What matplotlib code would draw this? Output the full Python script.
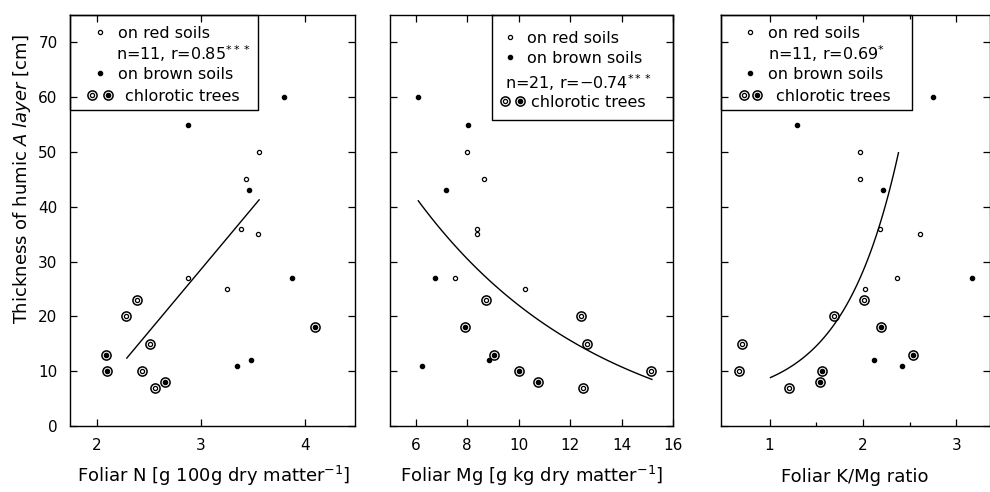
import matplotlib.pyplot as plt
import numpy as np
from matplotlib.transforms import Affine2D

# figure size in pixels (dpi 100)
W, H = 990, 492

# one record per tree: thickness of humic A layer [cm], soil, chlorotic flag
thickness = [60, 55, 50, 45, 43, 36, 35, 27, 27, 25, 23, 20, 18, 15, 13, 12, 11, 10, 10, 8, 7]
soil = ['b', 'b', 'r', 'r', 'b', 'r', 'r', 'r', 'b', 'r', 'r', 'r', 'b', 'r', 'b', 'b', 'b', 'r', 'b', 'b', 'r']
chlorotic = [0, 0, 0, 0, 0, 0, 0, 0, 0, 0, 1, 1, 1, 1, 1, 0, 0, 1, 1, 1, 1]

foliar_n = [3.80, 2.87, 3.56, 3.43, 3.46, 3.38, 3.55, 2.87, 3.87, 3.25, 2.38, 2.28, 4.10, 2.51, 2.09,
            3.48, 3.35, 2.43, 2.10, 2.65, 2.56]
foliar_mg = [6.10, 8.05, 7.98, 8.64, 7.17, 8.37, 8.40, 7.54, 6.75, 10.26, 8.75, 12.41, 7.93, 12.67, 9.03,
             8.85, 6.23, 15.15, 10.00, 10.75, 12.52]
foliar_kmg = [2.75, 1.29, 1.97, 1.97, 2.21, 2.18, 2.61, 2.36, 3.17, 2.02, 2.01, 1.69, 2.19, 0.71, 2.54,
              2.12, 2.42, 0.67, 1.56, 1.54, 1.21]

# regression curves
n_fit = dict(a=-39.5, b=22.7, x0=2.286, x1=3.558)            # y = a + b*x
mg_fit = dict(c=-4.2, a=106.4, b=0.14, x0=6.10, x1=15.18)    # y = c + a*exp(-b*x)
kmg_fit = dict(c=4.42, a=0.795, b=1.7, x0=1.01, x1=2.38)     # y = c + a*exp(b*x)

y = np.array(thickness, dtype=float)
red = np.array(soil) == 'r'
chl = np.array(chlorotic) == 1

plt.rcParams['font.family'] = 'DejaVu Sans'
fig = plt.figure(figsize=(W / 100, H / 100), dpi=100)
pix = Affine2D().scale(1, -1).translate(0, H)  # image pixels, origin top-left


def make_axes(l, t, r, b, xlim, xticks):
    ax = fig.add_axes([l / W, 1 - b / H, (r - l) / W, (b - t) / H])
    ax.set_xlim(*xlim)
    ax.set_ylim(0, 75)
    ax.set_xticks(xticks)
    ax.set_yticks(range(0, 71, 10))
    ax.tick_params(direction='in', top=True, right=True, length=5, width=0.9,
                   labelsize=11, pad=9)
    for s in ax.spines.values():
        s.set_linewidth(1.0)
    return ax


def draw_points(ax, x):
    x = np.asarray(x)
    ax.plot(x[chl], y[chl], 'o', ms=6.6, mfc='none', mec='k', mew=1.1, ls='none')
    ax.plot(x[red], y[red], 'o', ms=3.0, mfc='white', mec='k', mew=0.9, ls='none')
    ax.plot(x[~red], y[~red], 'o', ms=3.0, color='k', ls='none')


def mark(ax, px, py, kind):
    kw = dict(transform=pix, clip_on=False, ls='none')
    if kind in ('cr', 'cb'):
        ax.plot(px, py, 'o', ms=6.6, mfc='none', mec='k', mew=1.1, **kw)
    if kind in ('r', 'cr'):
        ax.plot(px, py, 'o', ms=3.0, mfc='white', mec='k', mew=0.9, **kw)
    else:
        ax.plot(px, py, 'o', ms=3.0, color='k', **kw)


def legend(ax, box, rows):
    x0, y0, x1, y1 = box
    ax.plot([x0, x1, x1, x0, x0], [y0, y0, y1, y1, y0], color='k', lw=1.0,
            transform=pix, clip_on=False)
    for markers, tx, ty, txt in rows:
        for px, kind in markers:
            mark(ax, px, ty, kind)
        ax.text(tx, ty, txt, transform=pix, fontsize=11.5, ha='left', va='center_baseline')


# panel 1: foliar N
ax1 = make_axes(70, 15, 355, 426, (1.74, 4.48), [2, 3, 4])
draw_points(ax1, foliar_n)
xs = np.linspace(n_fit['x0'], n_fit['x1'], 50)
ax1.plot(xs, n_fit['a'] + n_fit['b'] * xs, color='k', lw=1.0)
legend(ax1, (70, 15, 258, 110), [
    ([(100, 'r')], 118, 32, 'on red soils'),
    ([], 116, 52, r'n=11, r=0.85$^{***}$'),
    ([(100, 'b')], 118, 73, 'on brown soils'),
    ([(92, 'cr'), (108, 'cb')], 125, 95, 'chlorotic trees'),
])

# panel 2: foliar Mg
ax2 = make_axes(390, 15, 673, 426, (5, 16), [6, 8, 10, 12, 14, 16])
ax2.set_yticklabels([])
draw_points(ax2, foliar_mg)
xs = np.linspace(mg_fit['x0'], mg_fit['x1'], 100)
ax2.plot(xs, mg_fit['c'] + mg_fit['a'] * np.exp(-mg_fit['b'] * xs), color='k', lw=1.0)
legend(ax2, (492, 15, 673, 120), [
    ([(510, 'r')], 527, 37, 'on red soils'),
    ([(510, 'b')], 527, 57, 'on brown soils'),
    ([], 505, 81, 'n=21, r=\u22120.74$^{***}$'),
    ([(505, 'cr'), (520, 'cb')], 531, 101, 'chlorotic trees'),
])

# panel 3: foliar K/Mg ratio
ax3 = make_axes(721, 15, 990, 426, (0.48, 3.36), [1, 2, 3])
ax3.set_xticks([1.5, 2.5], minor=True)
ax3.tick_params(which='minor', direction='in', top=True, length=3, width=0.9)
ax3.set_yticklabels([])
draw_points(ax3, foliar_kmg)
xs = np.linspace(kmg_fit['x0'], kmg_fit['x1'], 100)
ax3.plot(xs, kmg_fit['c'] + kmg_fit['a'] * np.exp(kmg_fit['b'] * xs), color='k', lw=1.0)
legend(ax3, (721, 15, 912, 110), [
    ([(750, 'r')], 768, 32, 'on red soils'),
    ([], 768, 52, r'n=11, r=0.69$^{*}$'),
    ([(750, 'b')], 768, 73, 'on brown soils'),
    ([(744, 'cr'), (757, 'cb')], 776, 95, 'chlorotic trees'),
])

# axis labels
fig.text(27 / W, 1 - 179 / H, r'Thickness of humic $\mathit{A\ layer}$ [cm]', rotation=90,
         rotation_mode='anchor', ha='center', va='baseline', fontsize=13)
for xc, txt in [(214, r'Foliar N [g 100g dry matter$^{-1}$]'),
                (532, r'Foliar Mg [g kg dry matter$^{-1}$]'),
                (855, 'Foliar K/Mg ratio')]:
    fig.text(xc / W, 1 - 482 / H, txt, ha='center', va='baseline', fontsize=13)

fig.savefig('out.png', dpi=100)
